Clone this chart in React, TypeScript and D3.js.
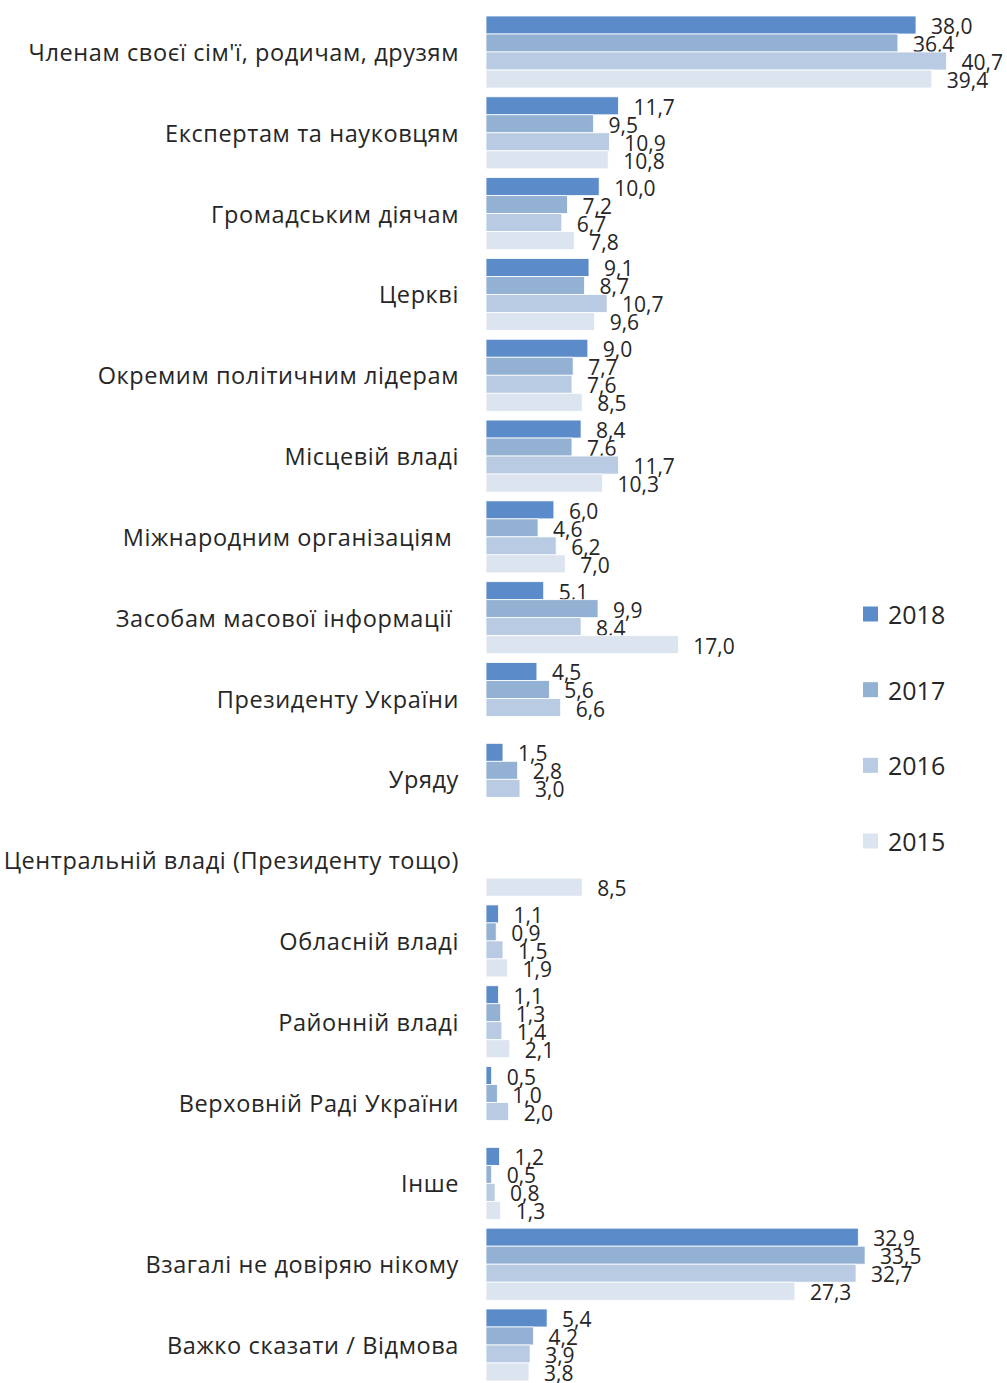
import React from "react";
import * as d3 from "d3";

const categories = [
  "Членам своєї сім'ї, родичам, друзям",
  "Експертам та науковцям",
  "Громадським діячам",
  "Церкві",
  "Окремим політичним лідерам",
  "Місцевій владі",
  "Міжнародним організаціям ",
  "Засобам масової інформації ",
  "Президенту України",
  "Уряду",
  "Центральній владі (Президенту тощо)",
  "Обласній владі",
  "Районній владі",
  "Верховній Раді України",
  "Інше",
  "Взагалі не довіряю нікому",
  "Важко сказати / Відмова",
];

const seriesNames = ["2018", "2017", "2016", "2015"];

const v2018: (number | null)[] = [38.0, 11.7, 10.0, 9.1, 9.0, 8.4, 6.0, 5.1, 4.5, 1.5, null, 1.1, 1.1, 0.5, 1.2, 32.9, 5.4];
const v2017: (number | null)[] = [36.4, 9.5, 7.2, 8.7, 7.7, 7.6, 4.6, 9.9, 5.6, 2.8, null, 0.9, 1.3, 1.0, 0.5, 33.5, 4.2];
const v2016: (number | null)[] = [40.7, 10.9, 6.7, 10.7, 7.6, 11.7, 6.2, 8.4, 6.6, 3.0, null, 1.5, 1.4, 2.0, 0.8, 32.7, 3.9];
const v2015: (number | null)[] = [39.4, 10.8, 7.8, 9.6, 8.5, 10.3, 7.0, 17.0, null, null, 8.5, 1.9, 2.1, null, 1.3, 27.3, 3.8];

const seriesValues = [v2018, v2017, v2016, v2015];
const colors = ["#5b8bc9", "#93b1d3", "#b8cbe3", "#dce4f0"];

const W = 1007;
const H = 1383;

export default function App() {
  const x = d3.scaleLinear().domain([0, 38]).range([486, 916]);
  const yb = d3
    .scaleBand<string>()
    .domain(categories)
    .range([16, 1381])
    .paddingInner(8.8 / 80.8)
    .paddingOuter(0);
  const inner = d3
    .scaleBand<string>()
    .domain(seriesNames)
    .range([0, yb.bandwidth()])
    .padding(0);
  const fmt = (v: number) => d3.format(".1f")(v).replace(".", ",");
  const textColor = "#262626";
  const legendY = d3.scaleLinear().domain([0, 3]).range([614, 841]);

  return (
    <svg
      width={W}
      height={H}
      style={{ position: "absolute", left: 0, top: 0, background: "#fff" }}
      fontFamily="'Open Sans', sans-serif"
    >
      {categories.map((c, i) => {
        const gy = yb(c)!;
        return (
          <g key={c}>
            <text
              x={459}
              y={gy + yb.bandwidth() / 2}
              textAnchor="end"
              dominantBaseline="central"
              fontSize={23.5}
              letterSpacing={0.6}
              fill={textColor}
              style={{ whiteSpace: "pre" }}
            >
              {c}
            </text>
            {seriesNames.map((s, k) => {
              const v = seriesValues[k][i];
              if (v == null) return null;
              const by = gy + inner(s)!;
              return (
                <g key={s}>
                  <rect
                    x={x(0)}
                    y={by}
                    width={x(v) - x(0)}
                    height={inner.bandwidth()}
                    fill={colors[k]}
                    stroke="#ffffff"
                    strokeWidth={0.8}
                  />
                  <text
                    x={x(v) + 15}
                    y={by + inner.bandwidth() / 2 + 1}
                    dominantBaseline="central"
                    fontSize={21}
                    fill={textColor}
                  >
                    {fmt(v)}
                  </text>
                </g>
              );
            })}
          </g>
        );
      })}
      {seriesNames.map((s, k) => (
        <g key={s}>
          <rect x={863} y={legendY(k) - 7.5} width={15} height={15} fill={colors[k]} />
          <text x={888} y={legendY(k)} dominantBaseline="central" fontSize={25} fill={textColor}>
            {s}
          </text>
        </g>
      ))}
    </svg>
  );
}
